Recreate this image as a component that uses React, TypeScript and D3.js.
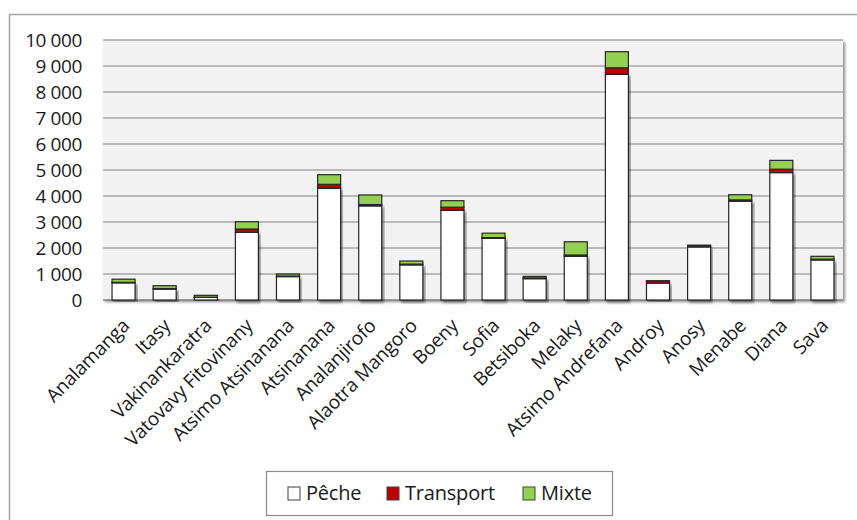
import React from "react";
import * as d3 from "d3";

const regions = [
  "Analamanga", "Itasy", "Vakinankaratra", "Vatovavy Fitovinany", "Atsimo Atsinanana",
  "Atsinanana", "Analanjirofo", "Alaotra Mangoro", "Boeny", "Sofia", "Betsiboka",
  "Melaky", "Atsimo Andrefana", "Androy", "Anosy", "Menabe", "Diana", "Sava",
];
const peche = [660, 420, 100, 2600, 900, 4300, 3620, 1350, 3450, 2370, 820, 1680, 8680, 650, 2040, 3800, 4900, 1540];
const transport = [20, 20, 10, 130, 20, 150, 50, 30, 120, 30, 30, 50, 250, 80, 30, 50, 130, 30];
const mixte = [120, 110, 70, 280, 80, 370, 370, 120, 250, 170, 60, 510, 620, 10, 40, 200, 340, 110];
const yTicks = [0, 1000, 2000, 3000, 4000, 5000, 6000, 7000, 8000, 9000, 10000];

const seriesNames = ["Pêche", "Transport", "Mixte"];
const seriesColors = ["#ffffff", "#c00000", "#92d050"];

const W = 857;
const H = 520;
const plot = { left: 103, right: 843, top: 40, bottom: 300 };
const font = "'Open Sans', Lato, sans-serif";

export default function App() {
  const x = d3.scaleBand<string>().domain(regions).range([plot.left, plot.right]).paddingInner(0.44).paddingOuter(0.22);
  const y = d3.scaleLinear().domain([0, 10000]).range([plot.bottom, plot.top]);

  const rows = regions.map((r, i) => ({ region: r, "Pêche": peche[i], Transport: transport[i], Mixte: mixte[i] }));
  const stacked = d3.stack<any>().keys(seriesNames)(rows);
  const fmt = (v: number) => d3.format(",")(v).replace(/,/g, " ");

  return (
    <svg width={W} height={H} style={{ position: "absolute", left: 0, top: 0, background: "#fff" }} fontFamily={font}>
      <defs>
        <filter id="shadow" x="-5%" y="-5%" width="115%" height="115%">
          <feGaussianBlur in="SourceAlpha" stdDeviation="1.5" />
          <feOffset dx="2" dy="2" result="b" />
          <feComponentTransfer><feFuncA type="linear" slope="0.45" /></feComponentTransfer>
          <feMerge><feMergeNode /><feMergeNode in="SourceGraphic" /></feMerge>
        </filter>
      </defs>
      {/* outer frame */}
      <rect x={9.5} y={14.5} width={870} height={540} fill="#fff" stroke="#a6a6a6" strokeWidth={1.5} />

      {/* plot background */}
      <rect x={plot.left} y={plot.top} width={plot.right - plot.left} height={plot.bottom - plot.top}
        fill="#f2f2f2" filter="url(#shadow)" />

      {yTicks.map((t) => (
        <g key={t}>
          <line x1={plot.left} x2={plot.right} y1={y(t)} y2={y(t)} stroke={t === 0 ? "#7f7f7f" : "#a6a6a6"} strokeWidth={1.5} />
          <text x={82} y={y(t)} dy="0.36em" textAnchor="end" fontSize={19} letterSpacing={-0.4} fill="#1a1a1a">{fmt(t)}</text>
        </g>
      ))}

      {stacked.map((s, si) => (
        <g key={s.key}>
          {s.map((d, i) => (
            <rect key={i} x={x(regions[i])} y={y(d[1])} width={x.bandwidth()} height={Math.max(0, y(d[0]) - y(d[1]))}
              fill={seriesColors[si]} stroke="#262626" strokeWidth={1.2}
              filter={si === 0 ? "url(#shadow)" : undefined} />
          ))}
        </g>
      ))}

      {regions.map((r) => {
        const cx = (x(r) as number) + x.bandwidth() / 2;
        return (
          <text key={r} transform={`translate(${cx + 7},${plot.bottom + 27}) rotate(-45)`} textAnchor="end"
            fontSize={19} letterSpacing={-0.2} fill="#1a1a1a">{r}</text>
        );
      })}

      {/* legend */}
      <g>
        <rect x={266.5} y={471.5} width={346} height={44} fill="#fff" stroke="#8c8c8c" strokeWidth={1.2} />
        {seriesNames.map((n, i) => {
          const lx = [288, 387, 523][i];
          return (
            <g key={n}>
              <rect x={lx} y={487} width={12} height={13} fill={seriesColors[i]} stroke="#404040" strokeWidth={1} />
              <text x={lx + 18} y={493} dy="0.36em" fontSize={20} letterSpacing={-0.2} fill="#1a1a1a">{n}</text>
            </g>
          );
        })}
      </g>
    </svg>
  );
}
